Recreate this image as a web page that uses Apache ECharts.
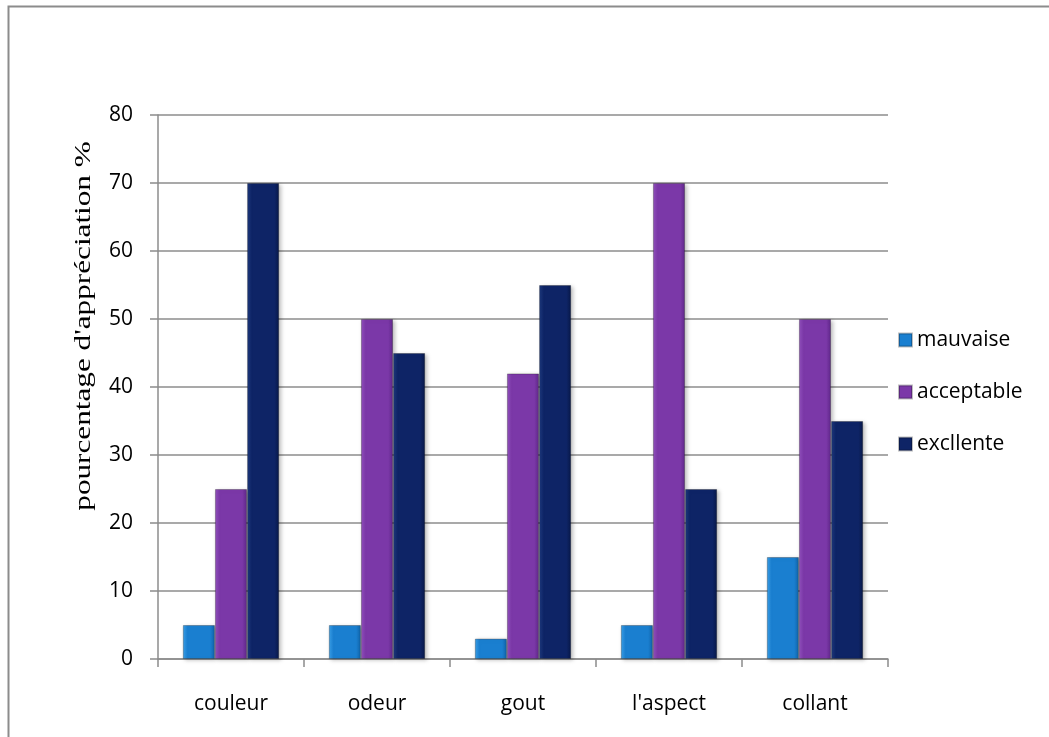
<!DOCTYPE html>
<html>
<head>
<meta charset="utf-8">
<script src="https://cdn.jsdelivr.net/npm/echarts@6/dist/echarts.min.js"></script>
<style>
html,body{margin:0;padding:0;background:#fff;}
#chart{width:1049px;height:737px;}
</style>
</head>
<body>
<div id="chart"></div>
<script>
// Sensory evaluation: share of ratings per criterion
const categories = ["couleur", "odeur", "gout", "l'aspect", "collant"];
const mauvaise = [5, 5, 3, 5, 15];
const acceptable = [25, 50, 42, 70, 50];
const excllente = [70, 45, 55, 25, 35];
const yTicks = { min: 0, max: 80, interval: 10 };
const yTitle = "pourcentage d'appréciation %";

function bevel(light, mid, dark) {
  return {
    type: 'linear', x: 0, y: 0, x2: 1, y2: 0,
    colorStops: [
      { offset: 0, color: light },
      { offset: 0.15, color: mid },
      { offset: 0.85, color: mid },
      { offset: 1, color: dark }
    ]
  };
}

const seriesDefs = [
  { name: 'mauvaise', data: mauvaise, fill: bevel('#3aa0e8', '#1a7fd0', '#0f62a8'), icon: '#1a7fd0' },
  { name: 'acceptable', data: acceptable, fill: bevel('#9250bd', '#7b38a8', '#5e2688'), icon: '#7b38a8' },
  { name: 'excllente', data: excllente, fill: bevel('#1f3a7e', '#0e2466', '#081848'), icon: '#0e2466' }
];

const labelFont = 'Open Sans';

const chart = echarts.init(document.getElementById('chart'));
chart.setOption({
  backgroundColor: '#ffffff',
  animation: false,
  graphic: [
    {
      type: 'rect',
      shape: { x: 8.5, y: 6.5, width: 1100, height: 800 },
      style: { fill: 'none', stroke: '#8c8c8c', lineWidth: 2 },
      silent: true, z: -1
    },
    {
      // vertical axis title, set in a stretched serif face
      type: 'text',
      x: 84, y: 326,
      rotation: Math.PI / 2,
      scaleX: 1.2,
      scaleY: 0.92,
      style: {
        text: yTitle,
        font: '26px "Liberation Serif"',
        fill: '#000',
        align: 'center',
        verticalAlign: 'middle'
      },
      silent: true
    }
  ],
  grid: { left: 158, right: 161, top: 115, bottom: 78 },
  legend: {
    orient: 'vertical',
    left: 893, top: 324,
    itemWidth: 13, itemHeight: 13, itemGap: 30,
    icon: 'rect',
    textStyle: { fontFamily: labelFont, fontSize: 21, lineHeight: 22, color: '#000' },
    data: seriesDefs.map(s => ({ name: s.name, itemStyle: { color: s.icon } }))
  },
  xAxis: {
    type: 'category',
    data: categories,
    axisLine: { lineStyle: { color: '#8c8c8c', width: 1.5 } },
    axisTick: { show: true, length: 8, lineStyle: { color: '#8c8c8c', width: 1.5 } },
    axisLabel: { fontFamily: labelFont, fontSize: 21, color: '#000', margin: 35 }
  },
  yAxis: {
    type: 'value',
    min: yTicks.min, max: yTicks.max, interval: yTicks.interval,
    axisLine: { show: true, lineStyle: { color: '#8c8c8c', width: 1.5 } },
    axisTick: { show: true, length: 8, lineStyle: { color: '#8c8c8c', width: 1.5 } },
    splitLine: { lineStyle: { color: '#8c8c8c', width: 1.5 } },
    axisLabel: { fontFamily: labelFont, fontSize: 21, color: '#000', margin: 25 }
  },
  series: seriesDefs.map(s => ({
    name: s.name,
    type: 'bar',
    data: s.data,
    barGap: '0%',
    barCategoryGap: '34%',
    itemStyle: {
      color: s.fill,
      borderColor: 'rgba(0,0,0,0.25)',
      borderWidth: 1,
      shadowColor: 'rgba(0,0,0,0.25)',
      shadowBlur: 4,
      shadowOffsetX: 2,
      shadowOffsetY: 1
    }
  }))
});
</script>
</body>
</html>
